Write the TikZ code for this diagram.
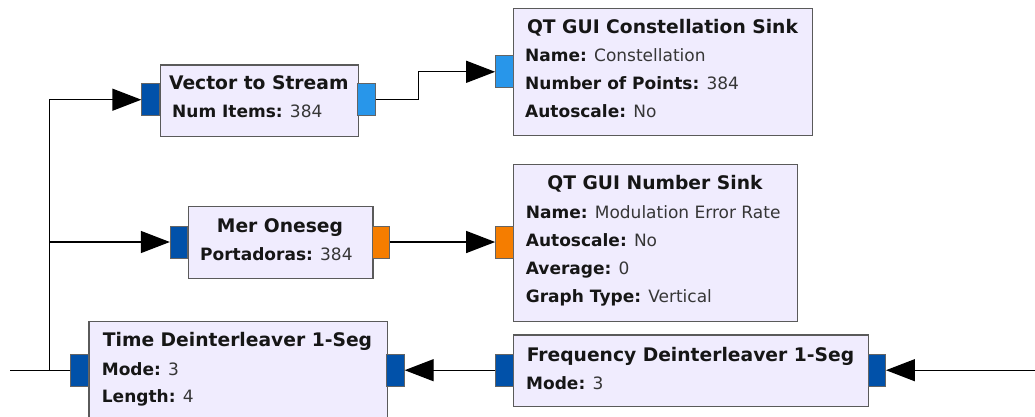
\documentclass[tikz,border=0pt]{standalone}
\usepackage{fontspec}
\setmainfont{DejaVu Sans}
\usetikzlibrary{arrows.meta}

\definecolor{blockfill}{HTML}{F0ECFE}
\definecolor{blockedge}{HTML}{5A5A5A}
\definecolor{portedge}{HTML}{646464}
\definecolor{cplxport}{HTML}{0151A9}
\definecolor{cvecport}{HTML}{2896EA}
\definecolor{fltport}{HTML}{F57D00}
\definecolor{keytext}{HTML}{161616}
\definecolor{valtext}{HTML}{363636}

\newcommand\blkparam[2]{{\color{keytext}\bfseries #1:} #2}

\tikzset{
  block/.style={draw=blockedge, fill=blockfill, line width=1.3pt, anchor=north west, inner sep=0pt},
  port/.style={draw=portedge, line width=0.8pt, minimum width=17.5pt, minimum height=32pt, inner sep=0pt},
  blocktitle/.style={font=\fontsize{18.7}{22}\selectfont\bfseries, text=keytext, anchor=base, inner sep=0pt},
  param/.style={font=\fontsize{17}{20}\selectfont, text=valtext, anchor=base west, inner sep=0pt},
  wire/.style={line width=1.3pt, black},
  flow/.style={wire, -{Triangle[length=29pt,width=22pt]}},
}

\begin{document}
\begin{tikzpicture}[x=1pt,y=-1pt]
\fill[white] (0,0) rectangle (1035,416);
\useasboundingbox (0,0) rectangle (1035,416);
\clip (0,0) rectangle (1035,416);

% ---- QT GUI Constellation Sink
\node[block, minimum width=299pt, minimum height=127pt] (con) at (513,8) {};
\node[port, fill=cvecport] (con-in) at (504.3,71.8) {};
\node[blocktitle] (con-t) at (662.5,33.5) {QT GUI Constellation Sink};
\node[param] (con-p1) at (525,61.2) {\blkparam{Name}{Constellation}};
\node[param] (con-p2) at (525,89.5) {\blkparam{Number of Points}{384}};
\node[param] (con-p3) at (525,117.9) {\blkparam{Autoscale}{No}};

% ---- Vector to Stream
\node[block, minimum width=197.5pt, minimum height=71.4pt] (vts) at (160,64.3) {};
\node[port, fill=cplxport] (vts-in) at (150.5,99.7) {};
\node[port, fill=cvecport] (vts-out) at (366.5,99.7) {};
\node[blocktitle] (vts-t) at (258.8,89.5) {Vector to Stream};
\node[param] (vts-p1) at (172,117.9) {\blkparam{Num Items}{384}};

% ---- Mer Oneseg
\node[block, minimum width=184.3pt, minimum height=71.7pt] (mer) at (188,206) {};
\node[port, fill=cplxport] (mer-in) at (179,242) {};
\node[port, fill=fltport] (mer-out) at (380.8,242) {};
\node[blocktitle] (mer-t) at (280,232.9) {Mer Oneseg};
\node[param] (mer-p1) at (200,260.5) {\blkparam{Portadoras}{384}};

% ---- QT GUI Number Sink
\node[block, minimum width=284pt, minimum height=156.7pt] (num) at (513,164) {};
\node[port, fill=fltport] (num-in) at (504.3,242) {};
\node[blocktitle] (num-t) at (655,189.5) {QT GUI Number Sink};
\node[param] (num-p1) at (525.7,218.5) {\blkparam{Name}{Modulation Error Rate}};
\node[param] (num-p2) at (525.7,246.6) {\blkparam{Autoscale}{No}};
\node[param] (num-p3) at (525.7,274.7) {\blkparam{Average}{0}};
\node[param] (num-p4) at (525.7,302.9) {\blkparam{Graph Type}{Vertical}};

% ---- Time Deinterleaver 1-Seg (rotated: input right, output left)
\node[block, minimum width=298.4pt, minimum height=100pt] (tdi) at (88.3,320.7) {};
\node[port, fill=cplxport] (tdi-out) at (79.5,370.2) {};
\node[port, fill=cplxport] (tdi-in) at (395.5,370.2) {};
\node[blocktitle] (tdi-t) at (237.5,346.9) {Time Deinterleaver 1-Seg};
\node[param] (tdi-p1) at (101.7,375.2) {\blkparam{Mode}{3}};
\node[param] (tdi-p2) at (101.7,402.9) {\blkparam{Length}{4}};

% ---- Frequency Deinterleaver 1-Seg (rotated: input right, output left)
\node[block, minimum width=355pt, minimum height=71.7pt] (fdi) at (513,334.3) {};
\node[port, fill=cplxport] (fdi-out) at (504.3,370.2) {};
\node[port, fill=cplxport] (fdi-in) at (876.8,370.2) {};
\node[blocktitle] (fdi-t) at (690.5,361.2) {Frequency Deinterleaver 1-Seg};
\node[param] (fdi-p1) at (526,389.7) {\blkparam{Mode}{3}};

% ---- connections
\coordinate (offright) at (1035,370.2);
\coordinate (offleft) at (10,370.2);
\coordinate (tap) at (49.5,370.2);

\draw[flow] (offright) -- (fdi-in.east);
\draw[flow] (fdi-out.west) -- (tdi-in.east);
\draw[wire] (tdi-out.west) -- (offleft);
\draw[flow] (tdi-out.west) -- (tap) |- (vts-in.west);
\draw[flow] (tap) |- (mer-in.west);
\draw[flow] (vts-out.east) -- ++(43,0) |- (con-in.west);
\draw[flow] (mer-out.east) -- (num-in.west);
\end{tikzpicture}
\end{document}
